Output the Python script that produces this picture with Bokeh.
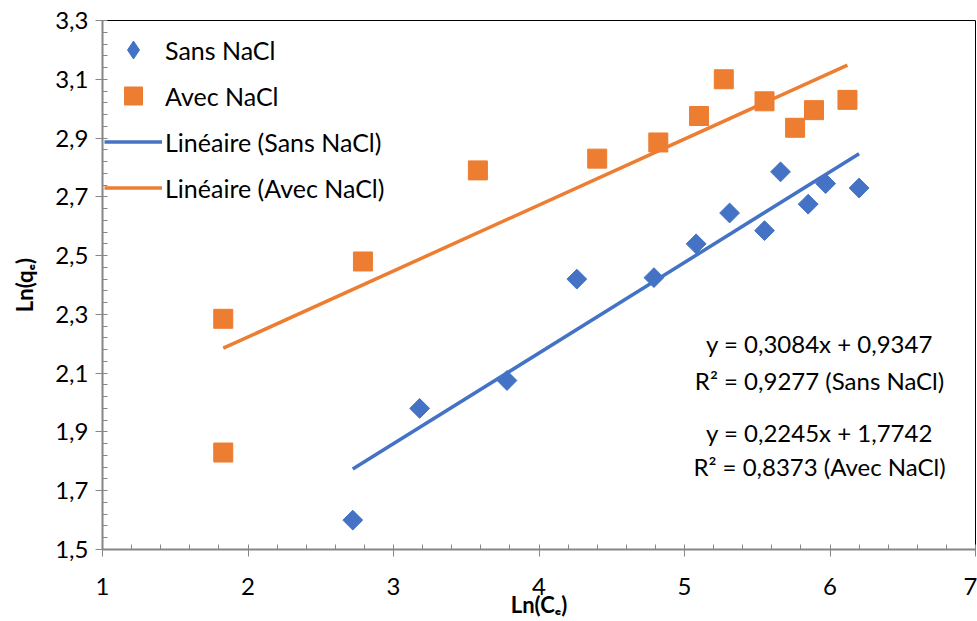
import math
from bokeh.plotting import figure
from bokeh.models import (Legend, LegendItem, Label, FixedTicker, CustomJSTickFormatter)
from bokeh.embed import file_html
from bokeh.resources import INLINE

# --- data ---
sans_x = [2.72, 3.18, 3.78, 4.26, 4.79, 5.08, 5.31, 5.55, 5.66, 5.85, 5.97, 6.20]
sans_y = [1.60, 1.98, 2.075, 2.42, 2.425, 2.54, 2.645, 2.585, 2.785, 2.675, 2.745, 2.73]
avec_x = [1.83, 1.83, 2.79, 3.58, 4.40, 4.82, 5.10, 5.27, 5.55, 5.76, 5.89, 6.12]
avec_y = [1.83, 2.285, 2.48, 2.79, 2.83, 2.885, 2.975, 3.10, 3.025, 2.935, 2.995, 3.03]

sans_slope, sans_intercept, sans_r2 = 0.3084, 0.9347, 0.9277
avec_slope, avec_intercept, avec_r2 = 0.2245, 1.7742, 0.8373

x_ticks = [1, 2, 3, 4, 5, 6, 7]
y_ticks = [1.5, 1.7, 1.9, 2.1, 2.3, 2.5, 2.7, 2.9, 3.1, 3.3]

BLUE = "#4472C4"
ORANGE = "#ED7D31"
GRAY = "#868686"
FONT = "Lato"

W, H = 977, 621
FL, FR, FT, FB = 102, 975, 20, 549   # frame edges in px
XMIN, XMAX, YMIN, YMAX = 1, 7, 1.5, 3.3

def dx(px):
    return XMIN + (px - FL) * (XMAX - XMIN) / (FR - FL)

def dy(py):
    return YMIN + (FB - py) * (YMAX - YMIN) / (FB - FT)

p = figure(width=W, height=H, output_backend="svg", toolbar_location=None,
           x_range=(XMIN, XMAX), y_range=(YMIN, YMAX),
           min_border_left=FL, min_border_right=W - FR, min_border_top=FT, min_border_bottom=H - FB)
p.xgrid.visible = False
p.ygrid.visible = False
p.outline_line_color = "black"
p.outline_line_width = 1
p.background_fill_color = "white"
p.border_fill_color = "white"

# trend lines from the stated coefficients over the data range
sx = [min(sans_x), max(sans_x)]
sy = [sans_slope * v + sans_intercept for v in sx]
ax_ = [min(avec_x), max(avec_x)]
ay = [avec_slope * v + avec_intercept for v in ax_]

# legend key for the diamond series (Bokeh never rotates legend keys); it sits
# entirely under the rotated squares below, so only the legend shows it
r_sans_key = p.scatter(sans_x, sans_y, marker="diamond", size=18, color=BLUE)
r_sans = p.scatter(sans_x, sans_y, marker="square", angle=math.pi / 4, size=14, color=BLUE)
r_avec = p.scatter(avec_x, avec_y, marker="square", size=19, color=ORANGE)
r_lsans = p.line(sx, sy, line_color=BLUE, line_width=3.5)
r_lavec = p.line(ax_, ay, line_color=ORANGE, line_width=3.5)

fmt_x = CustomJSTickFormatter(code="return tick.toFixed(0);")
fmt_y = CustomJSTickFormatter(code="return tick.toFixed(1).replace('.', ',');")

xa = p.xaxis[0]
xa.ticker = FixedTicker(ticks=x_ticks, minor_ticks=[1 + 0.2 * i for i in range(31)])
xa.formatter = fmt_x
ya = p.yaxis[0]
ya.ticker = FixedTicker(ticks=y_ticks, minor_ticks=[1.5 + 0.04 * i for i in range(46)])
ya.formatter = fmt_y

for a in (xa, ya):
    a.axis_line_color = GRAY
    a.axis_line_width = 2
    a.major_tick_line_color = GRAY
    a.minor_tick_line_color = GRAY
    a.major_tick_out = 7
    a.major_tick_in = 0
    a.minor_tick_out = 0
    a.minor_tick_in = 5
    a.major_label_text_font = FONT
    a.major_label_text_font_size = "24px"
    a.major_label_text_color = "black"
    a.axis_label_text_font = FONT
    a.axis_label_text_font_style = "bold"
    a.axis_label_text_font_size = "22px"
    a.axis_label_text_color = "black"

xa.major_label_standoff = 21
xa.axis_label = "Ln(Cₑ)"
xa.axis_label_standoff = -7
ya.major_label_standoff = 7
ya.axis_label = "Ln(qₑ)"
ya.axis_label_standoff = 14

legend = Legend(items=[
    LegendItem(label="Sans NaCl", renderers=[r_sans_key]),
    LegendItem(label="Avec NaCl", renderers=[r_avec]),
    LegendItem(label="Linéaire (Sans NaCl)", renderers=[r_lsans]),
    LegendItem(label="Linéaire (Avec NaCl)", renderers=[r_lavec]),
], location=(0, 337))
legend.glyph_width = 58
legend.glyph_height = 45
legend.spacing = 1
legend.padding = 2
legend.margin = 0
legend.label_standoff = 3
legend.label_text_font = FONT
legend.label_text_font_size = "25px"
legend.label_text_color = "black"
legend.border_line_alpha = 0
legend.background_fill_alpha = 0
p.add_layout(legend)

eq_x = dx(819)
eq_lines = [
    (f"y = {sans_slope:.4f}x + {sans_intercept:.4f}".replace('.', ','), 343),
    (f"R² = {sans_r2:.4f} (Sans NaCl)".replace('.', ','), 380),
    (f"y = {avec_slope:.4f}x + {avec_intercept:.4f}".replace('.', ','), 432),
    (f"R² = {avec_r2:.4f} (Avec NaCl)".replace('.', ','), 466),
]
for txt, py in eq_lines:
    p.add_layout(Label(x=eq_x, y=dy(py), text=txt, text_align="center", text_baseline="middle",
                       text_font=FONT, text_font_size="24px", text_color="black"))

open("out.html", "w").write(file_html(p, INLINE))
